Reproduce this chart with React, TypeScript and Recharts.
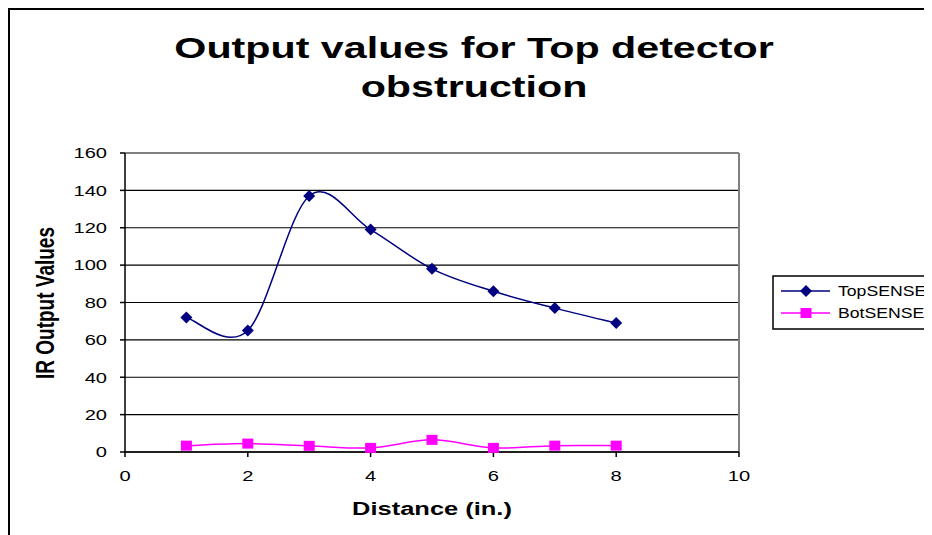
import React from 'react';
import { LineChart, Line, XAxis, YAxis, CartesianGrid, ReferenceLine } from 'recharts';

const distance = [1, 2, 3, 4, 5, 6, 7, 8];
const topSense = [72, 65, 137, 119, 98, 86, 77, 69];
const botSense = [3.4, 4.5, 3.3, 2.2, 6.5, 2.2, 3.4, 3.4];
const xTicks = [0, 2, 4, 6, 8, 10];
const yTicks = [0, 20, 40, 60, 80, 100, 120, 140, 160];

const FONT = '"Liberation Sans", Arial, sans-serif';
const STRETCH = 1.34;

// Excel style smoothed line (catmull-rom like bezier)
const excelCurve = (context: any) => {
  let pts: [number, number][] = [];
  return {
    areaStart() {},
    areaEnd() {},
    lineStart() {
      pts = [];
    },
    lineEnd() {
      const n = pts.length;
      if (!n) return;
      context.moveTo(pts[0][0], pts[0][1]);
      for (let i = 0; i < n - 1; i++) {
        const p0 = pts[Math.max(i - 1, 0)];
        const p1 = pts[i];
        const p2 = pts[i + 1];
        const p3 = pts[Math.min(i + 2, n - 1)];
        context.bezierCurveTo(
          p1[0] + (p2[0] - p0[0]) / 6,
          p1[1] + (p2[1] - p0[1]) / 6,
          p2[0] - (p3[0] - p1[0]) / 6,
          p2[1] - (p3[1] - p1[1]) / 6,
          p2[0],
          p2[1]
        );
      }
    },
    point(x: number, y: number) {
      pts.push([+x, +y]);
    },
  };
};

const data = distance.map((d, i) => ({ x: d, top: topSense[i], bot: botSense[i] }));

const Diamond = (p: any) => (
  <polygon
    key={`d${p.index}`}
    points={`${p.cx},${p.cy - 6} ${p.cx + 6},${p.cy} ${p.cx},${p.cy + 6} ${p.cx - 6},${p.cy}`}
    fill="#000080"
  />
);

const Square = (p: any) => (
  <rect key={`s${p.index}`} x={p.cx - 5.5} y={p.cy - 5} width={11} height={10} fill="#FF00FF" />
);

const YTick = (p: any) => (
  <g transform={`translate(${p.x},${p.y}) scale(${STRETCH},1)`}>
    <text x={0} y={0} dy="0.355em" textAnchor="end" fontSize={15} fontFamily={FONT} fill="#000">
      {p.payload.value}
    </text>
  </g>
);

const XTick = (p: any) => (
  <g transform={`translate(${p.x},${p.y}) scale(${STRETCH},1)`}>
    <text x={0} y={0} dy="0.71em" textAnchor="middle" fontSize={15} fontFamily={FONT} fill="#000">
      {p.payload.value}
    </text>
  </g>
);

export default function App() {
  return (
    <div style={{ position: 'relative', width: 924, height: 527, background: '#fff' }}>
      <LineChart
        width={924}
        height={527}
        data={data}
        margin={{ top: 145, right: 193, left: 57, bottom: 53 }}
        style={{ position: 'absolute', left: 0, top: 0 }}
      >
        <CartesianGrid horizontal vertical={false} stroke="#000" strokeWidth={1.2} />
        <XAxis
          dataKey="x"
          type="number"
          domain={[0, 10]}
          ticks={xTicks}
          height={30}
          tickSize={5}
          tickMargin={13}
          axisLine={{ stroke: '#000', strokeWidth: 1.5 }}
          tickLine={{ stroke: '#000', strokeWidth: 1.5 }}
          tick={<XTick />}
        />
        <YAxis
          type="number"
          domain={[0, 160]}
          ticks={yTicks}
          width={60}
          tickSize={5}
          tickMargin={13}
          axisLine={{ stroke: '#000', strokeWidth: 1.5 }}
          tickLine={{ stroke: '#000', strokeWidth: 1.5 }}
          tick={<YTick />}
        />
        <ReferenceLine y={160} stroke="#808080" strokeWidth={2} />
        <ReferenceLine x={10} stroke="#808080" strokeWidth={2} />
        <Line
          dataKey="top"
          name="TopSENSE"
          type={excelCurve as any}
          stroke="#000080"
          strokeWidth={1.5}
          dot={Diamond}
          activeDot={false}
          isAnimationActive={false}
        />
        <Line
          dataKey="bot"
          name="BotSENSE"
          type={excelCurve as any}
          stroke="#FF00FF"
          strokeWidth={1.5}
          dot={Square}
          activeDot={false}
          isAnimationActive={false}
        />
      </LineChart>
      <svg
        width={924}
        height={527}
        style={{ position: 'absolute', left: 0, top: 0, pointerEvents: 'none' }}
        fontFamily={FONT}
      >
        <path d="M1,527 V1 H924" fill="none" stroke="#000" strokeWidth={2} />
        <g fontSize={30} fontWeight="bold" textAnchor="middle">
          <g transform="translate(466,50) scale(1.375,1)">
            <text x={0} y={0}>Output values for Top detector</text>
          </g>
          <g transform="translate(466,89) scale(1.375,1)">
            <text x={0} y={0}>obstruction</text>
          </g>
        </g>
        <g transform={`translate(424,500) scale(${STRETCH},1)`}>
          <text x={0} y={0} dy="0.35em" fontSize={19} fontWeight="bold" textAnchor="middle">
            Distance (in.)
          </text>
        </g>
        <g transform={`translate(37,295) rotate(-90) scale(1,${STRETCH})`}>
          <text x={0} y={0} dy="0.35em" fontSize={19} fontWeight="bold" textAnchor="middle">
            IR Output Values
          </text>
        </g>
        <rect x={765} y={268} width={200} height={53} fill="#fff" stroke="#000" strokeWidth={1.5} />
        <line x1={773} x2={822} y1={283} y2={283} stroke="#000080" strokeWidth={1.5} />
        <polygon points="798,277 804,283 798,289 792,283" fill="#000080" />
        <line x1={773} x2={822} y1={305} y2={305} stroke="#FF00FF" strokeWidth={1.5} />
        <rect x={792.5} y={300} width={11} height={10} fill="#FF00FF" />
        <g transform="translate(830,283) scale(1.26,1)">
          <text x={0} y={0} dy="0.35em" fontSize={14}>TopSENSE</text>
        </g>
        <g transform="translate(830,305) scale(1.26,1)">
          <text x={0} y={0} dy="0.35em" fontSize={14}>BotSENSE</text>
        </g>
      </svg>
    </div>
  );
}
